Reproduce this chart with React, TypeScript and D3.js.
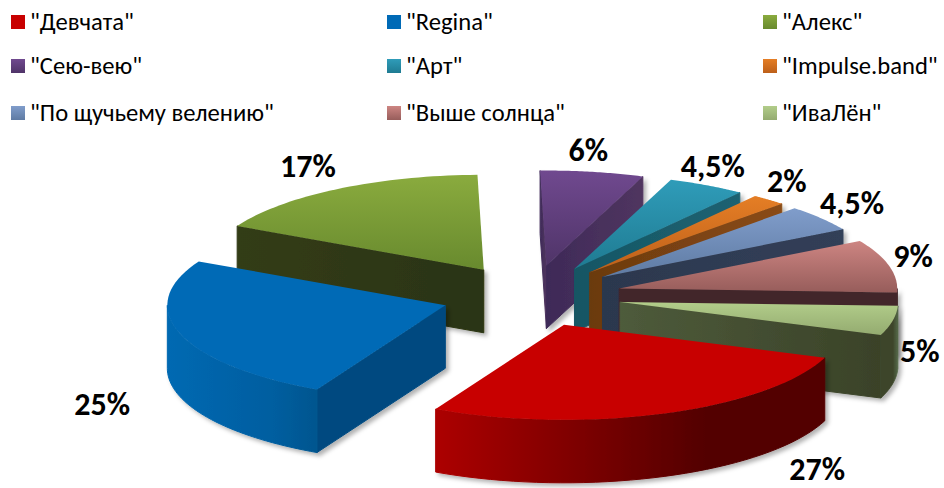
import React from "react";
import * as d3 from "d3";

const categories = ['"Девчата"', '"Regina"', '"Алекс"', '"Сею-вею"', '"Арт"', '"Impulse.band"', '"По щучьему велению"', '"Выше солнца"', '"ИваЛён"'];
const shares = [27, 25, 17, 6, 4.5, 2, 4.5, 9, 5];
const shareLabels = ["27%", "25%", "17%", "6%", "4,5%", "2%", "4,5%", "9%", "5%"];
const topColors = [["#c80000", "#c80000"], ["#006ab6", "#006ab6"], ["#8aab3e", "#688a2e"], ["#70498f", "#4f3468"], ["#2f9cb9", "#1f7b92"], ["#e57e25", "#bd601a"], ["#809dcb", "#5f7ba3"], ["#cd8582", "#975d5b"], ["#b2cd8a", "#94ab70"]];
const wallColors = [["#ac0000", "#520000", "#520000"], ["#0069b2", "#005ea0", "#00568f"], ["#2e3613", "#2e3613", "#2e3613"], ["#3e2a58", "#3e2a58", "#3e2a58"], ["#165766", "#165766", "#165766"], ["#6b3a10", "#6b3a10", "#6b3a10"], ["#2c384e", "#2c384e", "#2c384e"], ["#42262a", "#42262a", "#42262a"], ["#3c452a", "#3c452a", "#55694a"]];
const faceColors = [["#520000", "#520000"], ["#004a80", "#004a80"], ["#333c14", "#2a3412"], ["#3e2a58", "#50355f"], ["#155664", "#1e6272"], ["#6b3a10", "#8a4b14"], ["#2c384e", "#323f58"], ["#42262a", "#42262a"], ["#4e5b3b", "#3a4228"]];
const labelNudges = [[153, 56], [-78, 71], [-29, -23], [-4, -21], [6, -19], [18, -18], [31, -15], [24, -9], [27, 31]];

const legendColumns = [11, 387, 763];
const legendRows = [22, 66, 113];
const cx = 531.5, cy = 296, rx = 278, ry = 95, depth = 63, explode = 0.325;
const firstAngle = 110.3;
const BODY = "Carlito, Calibri, Lato, 'Open Sans', sans-serif";

const rad = (d: number) => (d * Math.PI) / 180;
const xs = d3.scaleLinear().domain([-1, 1]).range([cx - rx, cx + rx]);
const ys = d3.scaleLinear().domain([-1, 1]).range([cy - ry, cy + ry]);

const arcs = d3.pie<number>().sort(null).startAngle(rad(firstAngle)).endAngle(rad(firstAngle + 360))(shares);

type P = [number, number];
const line = d3.line<P>();

export default function App() {
  const slices = arcs.map((a, i) => {
    const t0 = a.startAngle - Math.PI / 2;
    const t1 = a.endAngle - Math.PI / 2;
    const mid = (t0 + t1) / 2;
    const ox = explode * Math.cos(mid);
    const oy = explode * Math.sin(mid);
    const pt = (t: number, drop = 0): P => [xs(ox + Math.cos(t)), ys(oy + Math.sin(t)) + drop];
    const apex = (drop = 0): P => [xs(ox), ys(oy) + drop];
    const sample = (u0: number, u1: number, drop = 0): P[] =>
      d3.range(0, 41).map((k) => pt(u0 + ((u1 - u0) * k) / 40, drop));

    const top = line([apex(), ...sample(t0, t1)]) + "Z";
    const walls: string[] = [];
    for (const k of [0, 2 * Math.PI]) {
      const lo = Math.max(t0, k);
      const hi = Math.min(t1, k + Math.PI);
      if (hi > lo) walls.push(line([...sample(lo, hi), ...sample(lo, hi, depth).reverse()]) + "Z");
    }
    const faces: string[] = [];
    const face = (t: number) => line([apex(), pt(t), pt(t, depth), apex(depth)]) + "Z";
    if (Math.cos(t0) < 0) faces.push(face(t0));
    if (Math.cos(t1) > 0) faces.push(face(t1));
    const m = pt(mid);
    return { i, top, walls, faces, label: [m[0] + labelNudges[i][0], m[1] + labelNudges[i][1]] };
  });

  // back to front
  const order = [3, 4, 5, 6, 7, 8, 2, 1, 0];

  return (
    <svg width={944} height={488} style={{ position: "absolute", left: 0, top: 0, background: "#fff" }}>
      <defs>
        <filter id="shadow" x="-10%" y="-10%" width="120%" height="125%">
          <feDropShadow dx="3" dy="3" stdDeviation="2" floodColor="#000" floodOpacity="0.3" />
        </filter>
        {categories.map((_, i) => (
          <g key={i}>
            <linearGradient id={`top${i}`} x1="0" y1="0" x2="0" y2="1">
              <stop offset="0" stopColor={topColors[i][0]} />
              <stop offset="1" stopColor={topColors[i][1]} />
            </linearGradient>
            <linearGradient id={`wall${i}`} x1="0" y1="0" x2="1" y2="0">
              <stop offset="0" stopColor={wallColors[i][0]} />
              <stop offset="0.7" stopColor={wallColors[i][1]} />
              <stop offset="1" stopColor={wallColors[i][2]} />
            </linearGradient>
            <linearGradient id={`face${i}`} x1="0" y1="0" x2="1" y2="0">
              <stop offset="0" stopColor={faceColors[i][0]} />
              <stop offset="1" stopColor={faceColors[i][1]} />
            </linearGradient>
          </g>
        ))}
      </defs>

      {categories.map((c, i) => {
        const col = legendColumns[i % 3];
        const row = legendRows[Math.floor(i / 3)];
        return (
          <g key={c}>
            <rect x={col} y={row - 7} width={14} height={14} fill={`url(#top${i})`} />
            <text x={col + 19} y={row} dominantBaseline="central" fontFamily={BODY} fontSize={24.6} fill="#000">
              {c}
            </text>
          </g>
        );
      })}

      {order.map((i) => {
        const s = slices[i];
        return (
          <g key={i}>
            <g filter="url(#shadow)">
              {s.faces.map((d, k) => <path key={k} d={d} fill={`url(#face${i})`} stroke={`url(#face${i})`} strokeWidth={1} />)}
              {s.walls.map((d, k) => <path key={k} d={d} fill={`url(#wall${i})`} stroke={`url(#wall${i})`} strokeWidth={1} />)}
            </g>
            <path d={s.top} fill={`url(#top${i})`} />
          </g>
        );
      })}

      {slices.map((s) => (
        <text key={s.i} x={s.label[0]} y={s.label[1]} textAnchor="middle" dominantBaseline="central"
          fontFamily={BODY} fontWeight={700} fontSize={32} fill="#000">
          {shareLabels[s.i]}
        </text>
      ))}
    </svg>
  );
}
